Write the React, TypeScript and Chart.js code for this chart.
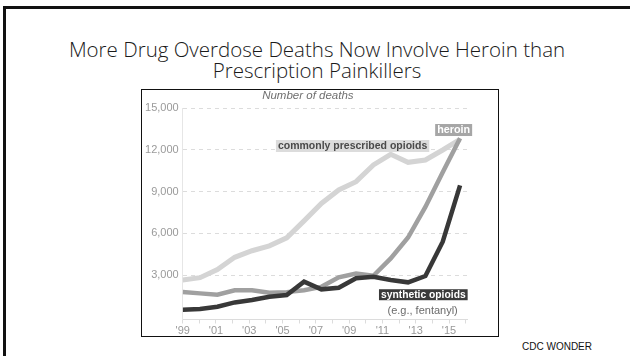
import React, { useEffect, useRef } from "react";
import { Chart, registerables } from "chart.js";

Chart.register(...registerables);

// ---- data ----
const years = [1999, 2000, 2001, 2002, 2003, 2004, 2005, 2006, 2007, 2008, 2009, 2010, 2011, 2012, 2013, 2014, 2015];
const prescribedOpioids = [2640, 2810, 3400, 4275, 4750, 5100, 5680, 6900, 8150, 9120, 9720, 10920, 11690, 11110, 11280, 12000, 12770];
const heroinDeaths = [1780, 1680, 1590, 1900, 1900, 1720, 1770, 1900, 2150, 2830, 3100, 2950, 4200, 5700, 7900, 10400, 12850];
const syntheticOpioids = [500, 550, 720, 1030, 1200, 1440, 1560, 2520, 1970, 2090, 2765, 2880, 2640, 2475, 2930, 5400, 9450];
const yTickValues = [3000, 6000, 9000, 12000, 15000];
const xTickYears = [1999, 2000, 2001, 2002, 2003, 2004, 2005, 2006, 2007, 2008, 2009, 2010, 2011, 2012, 2013, 2014, 2015, 2016];
const xTickLabels = ["'99", "'01", "'03", "'05", "'07", "'09", "'11", "'13", "'15"];

const titleLines = ["More Drug Overdose Deaths Now Involve Heroin than", "Prescription Painkillers"];
const axisTitle = "Number of deaths";
const sourceNote = "CDC WONDER";

const FONT = '"Liberation Sans", Arial, sans-serif';

// series label styling (anchored in data coordinates)
const seriesLabels = [
  { text: "commonly prescribed opioids", year: 2008.8, value: 12285, bg: "#dcdcdc", color: "#4a4a4a", weight: "bold", size: 10.5, boxH: 12, padX: 2 },
  { text: "heroin", year: 2014.63, value: 13437, bg: "#a6a6a6", color: "#ffffff", weight: "bold", size: 10.8, boxH: 12, padX: 2 },
  { text: "synthetic opioids", year: 2012.88, value: 1583, bg: "#3a3a3a", color: "#ffffff", weight: "bold", size: 10.3, boxH: 11, padX: 2 },
  { text: "(e.g., fentanyl)", year: 2012.84, value: 482, bg: "", color: "#6b6b6b", weight: "normal", size: 11, boxH: 11, padX: 0 },
];

const labelPlugin = {
  id: "seriesLabels",
  afterDatasetsDraw(chart: any) {
    const { ctx, scales, chartArea } = chart;
    ctx.save();
    ctx.font = `italic 11.5px ${FONT}`;
    ctx.fillStyle = "#6f6f6f";
    ctx.textAlign = "center";
    ctx.textBaseline = "alphabetic";
    ctx.fillText(axisTitle, (chartArea.left + chartArea.right) / 2 - 17, 8.5);
    for (const a of seriesLabels) {
      const cx = scales.x.getPixelForValue(a.year);
      const cy = scales.y.getPixelForValue(a.value);
      ctx.font = `${a.weight} ${a.size}px ${FONT}`;
      const w = ctx.measureText(a.text).width;
      if (a.bg) {
        ctx.fillStyle = a.bg;
        ctx.fillRect(cx - w / 2 - a.padX, cy - a.boxH / 2, w + 2 * a.padX, a.boxH);
      }
      ctx.fillStyle = a.color;
      ctx.textAlign = "center";
      ctx.textBaseline = "middle";
      ctx.fillText(a.text, cx, cy + 0.5);
    }
    ctx.restore();
  },
};

function OverdoseChart() {
  const ref = useRef<HTMLCanvasElement>(null);
  useEffect(() => {
    if (!ref.current) return;
    const toPts = (arr: number[]) => years.map((y, i) => ({ x: y, y: arr[i] }));
    const chart = new Chart(ref.current, {
      type: "line",
      data: {
        datasets: [
          { label: "synthetic opioids", data: toPts(syntheticOpioids), borderColor: "#383838", borderWidth: 4.5, order: 0, xAxisID: "x", yAxisID: "y" },
          { label: "heroin", data: toPts(heroinDeaths), borderColor: "#a0a0a0", borderWidth: 4.5, order: 1, xAxisID: "x", yAxisID: "y" },
          { label: "commonly prescribed opioids", data: toPts(prescribedOpioids), borderColor: "#d4d4d4", borderWidth: 5, order: 2, xAxisID: "x", yAxisID: "y" },
        ],
      } as any,
      options: {
        animation: false,
        responsive: false,
        devicePixelRatio: 1,
        layout: { padding: { top: 18.3, right: 31, left: 0, bottom: 0 } },
        elements: { point: { radius: 0 }, line: { tension: 0, borderJoinStyle: "miter", fill: false } },
        plugins: { legend: { display: false }, tooltip: { enabled: false }, title: { display: false } },
        scales: {
          x: { type: "linear", display: false, min: 1999, max: 2015.4 },
          x2: {
            type: "linear",
            position: "bottom",
            min: 1999,
            max: 2016.08,
            afterBuildTicks: (s: any) => { s.ticks = xTickYears.map((v) => ({ value: v })); },
            afterFit: (s: any) => { s.height = 16.5; },
            ticks: {
              autoSkip: false,
              maxRotation: 0,
              padding: 1,
              color: "#9a9a9a",
              font: { family: FONT, size: 11 },
              callback: (v: any) => {
                const s = "'" + String(v).slice(2);
                return xTickLabels.includes(s) ? s : "";
              },
            },
            grid: { drawOnChartArea: false, tickLength: 4, color: "#dcdcdc" },
            border: { color: "#dcdcdc", width: 1 },
          },
          y: {
            type: "linear",
            min: -200,
            max: 15000,
            afterBuildTicks: (s: any) => { s.ticks = yTickValues.map((v) => ({ value: v })); },
            afterFit: (s: any) => { s.width = 40.7; },
            ticks: {
              padding: 4,
              color: "#9a9a9a",
              font: { family: FONT, size: 11 },
              callback: (v: any) => Number(v).toLocaleString("en-US"),
            },
            grid: { color: "#dcdcdc", drawTicks: false, lineWidth: 1 },
            border: { color: "#e6e6e6", width: 1, dash: [4, 4] },
          },
        },
      } as any,
      plugins: [labelPlugin],
    });
    return () => chart.destroy();
  }, []);
  return <canvas ref={ref} width={356} height={246} style={{ display: "block", width: 356, height: 246 }} />;
}

export default function App() {
  return (
    <div style={{ position: "fixed", left: 0, top: 0, width: 630, height: 356, overflow: "hidden", background: "#fff" }}>
      <div style={{ position: "absolute", left: 3, top: 6, width: 700, height: 400, borderLeft: "3px solid #111", borderTop: "3px solid #111" }} />
      <div
        style={{
          position: "absolute",
          left: 4,
          top: 39,
          width: 626,
          textAlign: "center",
          fontFamily: '"Open Sans", sans-serif',
          fontWeight: 300,
          fontSize: 20.5,
          lineHeight: "21px",
          color: "#1a1a1a",
        }}
      >
        {titleLines.map((t) => (
          <div key={t}>{t}</div>
        ))}
      </div>
      <div style={{ position: "absolute", left: 141, top: 89, width: 358, height: 248, border: "1px solid #111", boxSizing: "border-box", background: "#fff" }}>
        <OverdoseChart />
      </div>
      <div style={{ position: "absolute", left: 522, top: 341, fontFamily: FONT, fontSize: 10, color: "#111", whiteSpace: "nowrap" }}>{sourceNote}</div>
    </div>
  );
}
